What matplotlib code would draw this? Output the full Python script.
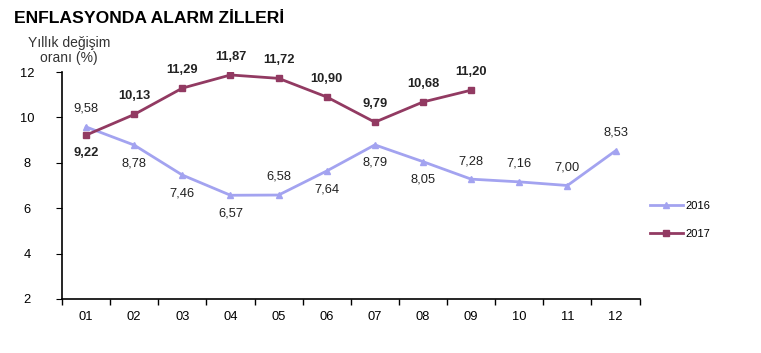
import numpy as np
import matplotlib.pyplot as plt

plt.rcParams['font.family'] = ['Liberation Sans', 'DejaVu Sans']

months = ['01', '02', '03', '04', '05', '06', '07', '08', '09', '10', '11', '12']
y2016 = [9.58, 8.78, 7.46, 6.57, 6.58, 7.64, 8.79, 8.05, 7.28, 7.16, 7.00, 8.53]
y2017 = [9.22, 10.13, 11.29, 11.87, 11.72, 10.90, 9.79, 10.68, 11.20]
# label placement: 1 = above the point, -1 = below
pos2016 = [1, -1, -1, -1, 1, -1, -1, -1, 1, 1, 1, 1]
pos2017 = [-1, 1, 1, 1, 1, 1, 1, 1, 1]

c16 = '#a3a3f0'
c17 = '#923a62'

fig = plt.figure(figsize=(7.61, 3.53), dpi=100)
ax = fig.add_axes([0.0815, 0.153, 0.759, 0.643])

x16 = np.arange(len(y2016))
x17 = np.arange(len(y2017))
ax.plot(x16, y2016, color=c16, lw=2, marker='^', ms=5, label='2016')
ax.plot(x17, y2017, color=c17, lw=2, marker='s', ms=5, label='2017')

def fmt(v):
    return f'{v:.2f}'.replace('.', ',')

for xi, v, p in zip(x16, y2016, pos2016):
    ax.annotate(fmt(v), (xi, v), xytext=(0, 13 * p), textcoords='offset points',
                ha='center', va='center', fontsize=9.3, color='#222222')
for xi, v, p in zip(x17, y2017, pos2017):
    ax.annotate(fmt(v), (xi, v), xytext=(0, 13 * p), textcoords='offset points',
                ha='center', va='center', fontsize=9.3, color='#222222', fontweight='bold')

ax.set_xlim(-0.5, 11.5)
ax.set_ylim(2, 12)
ax.set_yticks([2, 4, 6, 8, 10, 12])
ax.set_xticks(np.arange(12))
ax.set_xticklabels(months)
ax.set_xticks(np.arange(-0.5, 12, 1), minor=True)
ax.tick_params(axis='x', which='major', length=0, pad=9, labelsize=9.3)
ax.tick_params(axis='x', which='minor', length=4, direction='out', width=1)
ax.tick_params(axis='y', length=4, direction='out', pad=21, labelsize=9.3)
for lab in ax.get_yticklabels():
    lab.set_horizontalalignment('center')
for s in ['top', 'right']:
    ax.spines[s].set_visible(False)
for s in ['left', 'bottom']:
    ax.spines[s].set_linewidth(1.2)

ax.legend(loc='center left', bbox_to_anchor=(1.0, 0.348), frameon=False,
          fontsize=8, handlelength=3, labelspacing=1.6, handletextpad=0.2,
          markerscale=0.8)

fig.text(0.019, 0.949, 'ENFLASYONDA ALARM ZİLLERİ', fontsize=12.6, fontweight='bold',
         ha='left', va='center')
fig.text(0.0907, 0.858, 'Yıllık değişim\noranı (%)', fontsize=10, ha='center',
         va='center', color='#333333', linespacing=1.1)

fig.savefig('out.png', dpi=100)
